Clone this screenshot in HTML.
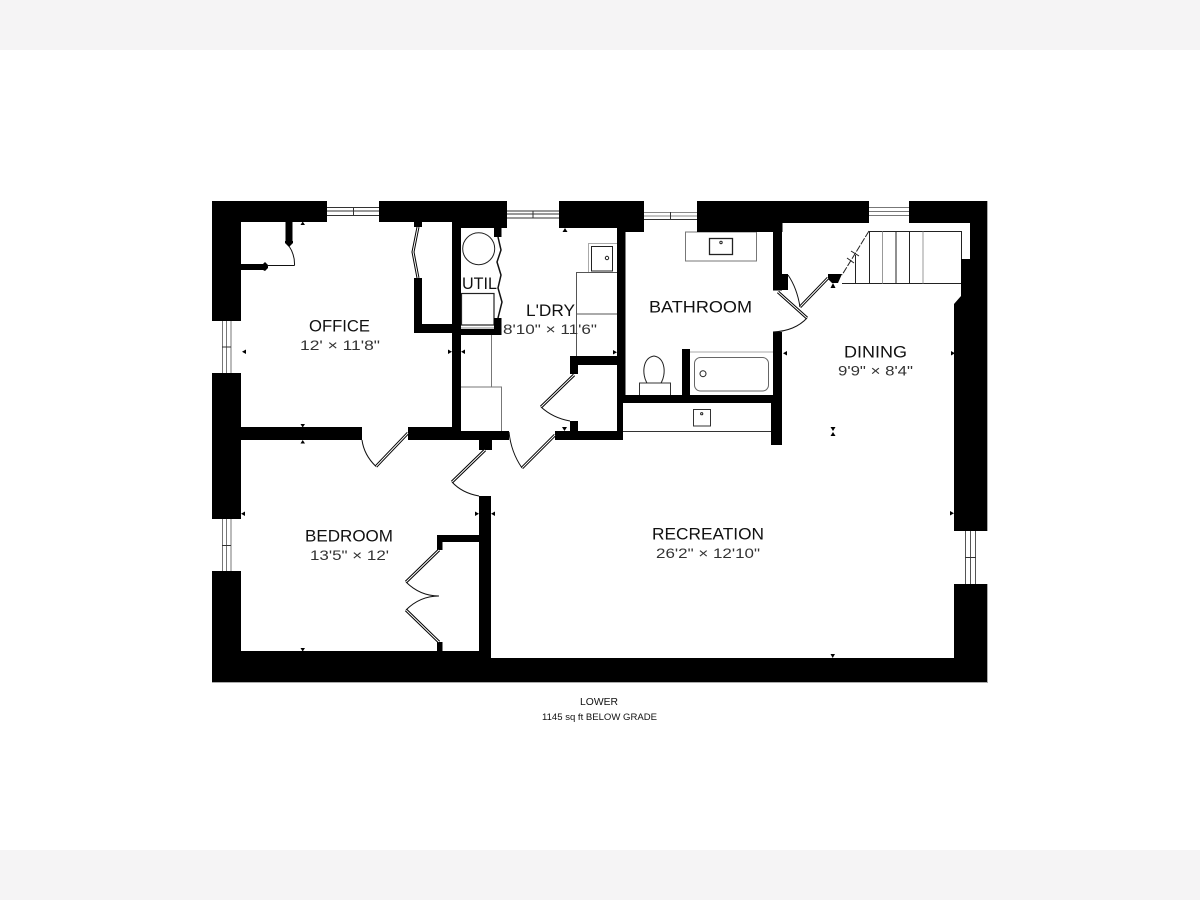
<!DOCTYPE html>
<html lang="en">
<head>
<meta charset="utf-8">
<title>Lower floor plan</title>
<style>
html,body{margin:0;padding:0;background:#fff;width:1200px;height:900px;overflow:hidden}
svg{display:block}
text{font-family:"Liberation Sans",sans-serif;fill:#111}
.n{font-size:17px}
.d{font-size:14px;fill:#333}
</style>
</head>
<body>
<svg width="1200" height="900" viewBox="0 0 1200 900" xmlns="http://www.w3.org/2000/svg">
<rect width="1200" height="900" fill="#fff"/>
<rect width="1200" height="50" fill="#f5f4f5"/>
<rect y="850" width="1200" height="50" fill="#f5f4f5"/>

<!-- fixtures -->
<g fill="none" stroke="#222" stroke-width="1">
<circle cx="478.7" cy="248.7" r="16"/>
<rect x="461.5" y="293.5" width="32.5" height="31.5" stroke-width="1.2"/>
<path d="M461 328H494" stroke="#888"/>
<path d="M491.5 335V387M461 387H501.5V431" stroke="#777"/>
<rect x="588.5" y="243.5" width="29" height="29" stroke="#aaa"/>
<rect x="591.5" y="246.5" width="21" height="24.5"/>
<circle cx="607" cy="258" r="1.7"/>
<path d="M617 272.5H576.5V356M576.5 314H617" stroke="#555"/>
<rect x="685.5" y="232" width="71" height="29" stroke="#777"/>
<rect x="709.5" y="238.5" width="23" height="16" stroke-width="1.3"/>
<circle cx="721" cy="242.5" r="1.2"/>
<rect x="639.5" y="383" width="31" height="12.5" stroke="#333"/>
<path d="M647 383C642 375 642 358 654 356C666 358 666 375 661 383" />
<path d="M690 352H773" stroke="#aaa"/>
<rect x="694.5" y="357.5" width="74" height="33.5" rx="6" stroke="#666"/>
<circle cx="703" cy="373.7" r="3"/>
<rect x="693.5" y="409.5" width="17" height="16.5" stroke="#333"/>
<circle cx="701.7" cy="413.7" r="1.1"/>
<path d="M623 431.5H771" stroke="#333"/>
<!-- stairs -->
<path d="M869 231.5H961.5V283.5H842M869.5 231V283.5M855.5 255V283.5M896 231.5V283.5M909.5 231.5V283.5"/>
<path d="M882.5 231.5V283.5M923 231.5V283.5" stroke="#999"/>
<path d="M869 231L842 275" stroke-dasharray="7 1.5"/>
<path d="M851 251L859 256M847 258L854 263"/>
</g>

<!-- windows -->
<g stroke="#333" stroke-width="1" fill="none">
<path d="M327 207.5H379M327 211H379M327 215.5H379M353.5 207V215.5" />
<path d="M507 211H559M507 214H559M507 218H559M533 211V218" />
<path d="M644 212.5H697M644 216H697" stroke="#888"/><path d="M644 219.5H697M670.5 212V220"/>
<path d="M869 207.5H909M869 211.5H909M869 215.5H909" stroke="#777"/>
<path d="M222.5 321V373M226.5 321V373M231 321V373" stroke="#777"/><path d="M222 347H231"/>
<path d="M222.5 519V571M226.5 519V571M231 519V571" stroke="#777"/><path d="M222 545.5H231"/>
<path d="M965.5 531V584M970.5 531V584M975.5 531V584" stroke="#555"/><path d="M965 557.5H976"/>
</g>

<!-- walls -->
<g fill="#000">
<rect x="212" y="201" width="115" height="21"/>
<rect x="212" y="201" width="29" height="120"/>
<rect x="212" y="373" width="29" height="146"/>
<rect x="212" y="571" width="29" height="111"/>
<rect x="212" y="651" width="279" height="31"/>
<rect x="491" y="658" width="496" height="24"/>
<rect x="379" y="201" width="128" height="21"/>
<rect x="452" y="222" width="55" height="6"/>
<rect x="559" y="201" width="85" height="27"/>
<rect x="617" y="228" width="27" height="4"/>
<rect x="697" y="201" width="172" height="22"/>
<rect x="697" y="223" width="85.5" height="9"/>
<rect x="909" y="201" width="78" height="22"/>
<polygon points="970,223 987,223 987,531 954,531 954,304 961,296 961,259 970,259"/>
<rect x="954" y="584" width="33" height="98"/>
<rect x="241" y="427" width="121" height="13"/>
<rect x="408" y="427" width="53" height="13"/>
<rect x="461" y="431" width="48" height="9"/>
<rect x="452" y="222" width="9" height="209"/>
<rect x="414" y="278" width="8" height="55"/>
<rect x="414" y="324" width="38" height="9"/>
<rect x="414" y="222" width="8" height="5"/>
<rect x="461" y="329" width="40" height="6"/>
<rect x="494" y="318" width="7.5" height="17"/>
<rect x="494" y="228" width="7.5" height="9"/>
<rect x="285.5" y="222" width="7" height="19"/>
<polygon points="285,241 293,241 293,243 289,247 285,243"/>
<rect x="241" y="264" width="22" height="6"/>
<polygon points="263,264 265,262 268,265 268,268 265,271 263,270"/>
<rect x="617" y="228" width="8.5" height="168"/>
<rect x="617" y="395" width="6" height="45"/>
<rect x="623" y="395" width="150" height="8"/>
<rect x="682" y="349" width="8" height="47"/>
<rect x="773" y="232" width="9" height="58.5"/>
<rect x="782" y="274" width="6" height="16"/>
<rect x="773" y="332" width="9" height="64"/>
<rect x="771" y="395" width="11" height="50"/>
<rect x="570" y="356" width="47" height="9"/>
<rect x="570" y="356" width="8" height="18"/>
<rect x="570" y="421" width="8" height="11"/>
<rect x="555" y="431" width="68" height="9"/>
<rect x="479" y="440" width="13" height="10"/>
<rect x="479" y="496" width="12" height="162"/>
<rect x="437" y="535" width="42" height="7"/>
<rect x="437" y="535" width="5.5" height="15"/>
<rect x="437" y="642" width="5.5" height="10"/>
<polygon points="828,274 842,274 838,283 832,283 828,279"/>
</g>
<path d="M212 682.5H987.5V584M987.5 531V201" fill="none" stroke="#aaa" stroke-width="1"/>

<!-- door leaves -->
<g fill="none" stroke="#000" stroke-width="3">
<path d="M408 433L376 466.5M485 450L452 482M439 550L406 582M439 642L406 610M555 435L522 468M574 375L541 407M778 292L807 318M828 278L800 307"/>
</g>
<g fill="none" stroke="#fff" stroke-width="1">
<path d="M408 433L376 466.5M485 450L452 482M439 550L406 582M439 642L406 610M555 435L522 468M574 375L541 407M778 292L807 318M828 278L800 307"/>
</g>
<!-- door arcs -->
<g fill="none" stroke="#111" stroke-width="1">
<path d="M362 440Q364 455 376 466.5M452 482Q462 493 479 496M406 582Q420 596 439 596Q420 596 406 610M509 432Q511 452 522 468M541 407Q553 418 570 421M807 318Q795 331 773 332M800 307Q797 288 788 275"/>
<path d="M289 246Q295 255 294.5 265.5M267 265.5H294.5"/>
</g>
<!-- bifold doors -->
<g fill="none">
<path d="M418 227L413 252L418 278" stroke="#000" stroke-width="3"/>
<path d="M418 227L413 252L418 278" stroke="#fff" stroke-width="1"/>
<path d="M498 237L501 250L497 262L501 275L498 288L502 302L498 318" stroke="#111" stroke-width="1.5"/>
</g>

<!-- dimension ticks -->
<g fill="#000">
<polygon points="300.5,225 305,225 302.7,221.5"/>
<polygon points="246,349.5 246,354 242,351.7"/>
<polygon points="448,349.5 448,354 452,351.7"/>
<polygon points="465,349.5 465,354 461,351.7"/>
<polygon points="300.5,424 305,424 302.7,427.5"/>
<polygon points="300.5,443.5 305,443.5 302.7,440"/>
<polygon points="245,511.5 245,516 241,513.7"/>
<polygon points="475,511.5 475,516 479,513.7"/>
<polygon points="495,511.5 495,516 491,513.7"/>
<polygon points="300.5,648 305,648 302.7,651.5"/>
<polygon points="830.5,654 835,654 832.7,658"/>
<polygon points="950,511 950,515.5 954,513.2"/>
<polygon points="787,351 787,355.5 783,353.2"/>
<polygon points="951,351 951,355.5 955,353.2"/>
<polygon points="830.5,427 835.5,427 833,431"/>
<polygon points="830.5,436 835.5,436 833,432"/>
<polygon points="830.5,288 835.5,288 833,283"/>
<polygon points="562.5,232 567.5,232 565,228"/>
<polygon points="613,350 613,354.5 617,352.2"/>
<polygon points="562,427 567,427 564.5,431"/>
</g>

<!-- labels -->
<text class="n" x="309" y="331.5" textLength="61" lengthAdjust="spacingAndGlyphs">OFFICE</text>
<text class="d" x="300" y="350" textLength="80" lengthAdjust="spacingAndGlyphs">12' × 11'8"</text>
<text class="n" x="462" y="289" textLength="35" lengthAdjust="spacingAndGlyphs">UTIL</text>
<text class="n" x="526" y="316" textLength="49" lengthAdjust="spacingAndGlyphs">L'DRY</text>
<text class="d" x="503" y="334" textLength="94" lengthAdjust="spacingAndGlyphs">8'10" × 11'6"</text>
<text class="n" x="649" y="312.5" textLength="103" lengthAdjust="spacingAndGlyphs">BATHROOM</text>
<text class="n" x="844" y="357.5" textLength="63" lengthAdjust="spacingAndGlyphs">DINING</text>
<text class="d" x="838" y="375.5" textLength="75" lengthAdjust="spacingAndGlyphs">9'9" × 8'4"</text>
<text class="n" x="305" y="541.5" textLength="88" lengthAdjust="spacingAndGlyphs">BEDROOM</text>
<text class="d" x="310" y="560" textLength="79" lengthAdjust="spacingAndGlyphs">13'5" × 12'</text>
<text class="n" x="652" y="539.5" textLength="112" lengthAdjust="spacingAndGlyphs">RECREATION</text>
<text class="d" x="656" y="558" textLength="104" lengthAdjust="spacingAndGlyphs">26'2" × 12'10"</text>
<text x="580" y="705" font-size="10.5" textLength="38" lengthAdjust="spacingAndGlyphs">LOWER</text>
<text x="542" y="720" font-size="9.5" textLength="115" lengthAdjust="spacingAndGlyphs">1145 sq ft BELOW GRADE</text>
</svg>
</body>
</html>
